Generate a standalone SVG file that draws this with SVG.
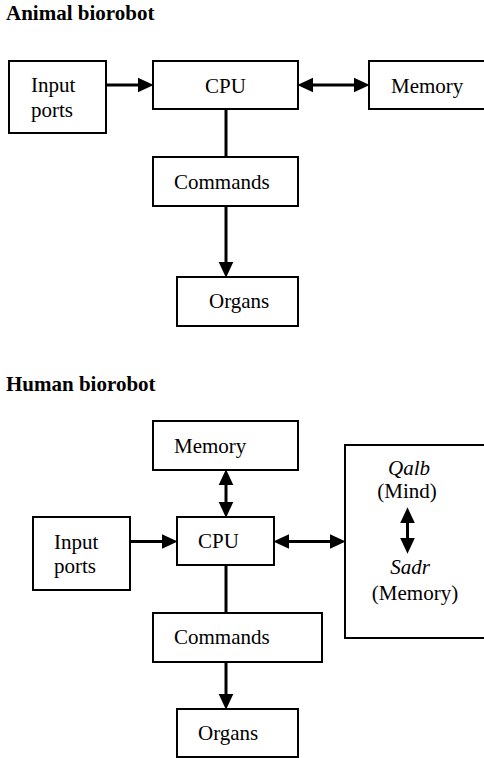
<svg xmlns="http://www.w3.org/2000/svg" width="484" height="758" viewBox="0 0 484 758">
<style>
.box{fill:#fff;stroke:#000;stroke-width:2}
.t{font-family:"Liberation Serif","Times New Roman","DejaVu Serif",serif;font-size:21px;fill:#000}
.i{font-style:italic}
.h{font-weight:bold}
.c{stroke:#000;stroke-width:3;fill:none}
</style>
<defs>
<marker id="ah" markerUnits="userSpaceOnUse" markerWidth="16" markerHeight="16" viewBox="0 0 15 14" refX="5" refY="7" orient="auto-start-reverse">
<path d="M0,0 L15,7 L0,14 z" fill="#000"/>
</marker>
</defs>
<rect width="484" height="758" fill="#fff"/>
<text class="t h" x="6" y="20">Animal biorobot</text>
<text class="t h" x="6" y="391">Human biorobot</text>

<g id="a-input">
<rect class="box" x="9" y="61" width="97" height="72"/>
<text class="t" x="31" y="92">Input</text>
<text class="t" x="31" y="116.5">ports</text>
</g>
<g id="a-cpu">
<rect class="box" x="153" y="61" width="145" height="48"/>
<text class="t" x="205" y="92.5">CPU</text>
</g>
<g id="a-memory">
<rect class="box" x="369" y="61" width="120" height="48"/>
<text class="t" x="391" y="92.5">Memory</text>
</g>
<g id="a-commands">
<rect class="box" x="153" y="157" width="145" height="49"/>
<text class="t" x="174" y="188.5">Commands</text>
</g>
<g id="a-organs">
<rect class="box" x="177" y="277" width="121" height="49"/>
<text class="t" x="209" y="308">Organs</text>
</g>

<g id="h-memory">
<rect class="box" x="153" y="421" width="145" height="49"/>
<text class="t" x="174" y="452.5">Memory</text>
</g>
<g id="h-cpu">
<rect class="box" x="177" y="517" width="97" height="48"/>
<text class="t" x="198" y="548">CPU</text>
</g>
<g id="h-input">
<rect class="box" x="33" y="517" width="97" height="73"/>
<text class="t" x="54" y="549">Input</text>
<text class="t" x="54" y="573">ports</text>
</g>
<g id="h-soul">
<rect class="box" x="345" y="445" width="150" height="193"/>
<text class="t i" x="409" y="475" text-anchor="middle">Qalb</text>
<text class="t" x="407" y="498" text-anchor="middle">(Mind)</text>
<text class="t i" x="410" y="574" text-anchor="middle">Sadr</text>
<text class="t" x="415" y="600" text-anchor="middle">(Memory)</text>
</g>
<g id="h-commands">
<rect class="box" x="153" y="613" width="169" height="49"/>
<text class="t" x="174" y="644">Commands</text>
</g>
<g id="h-organs">
<rect class="box" x="177" y="709" width="121" height="48"/>
<text class="t" x="198" y="740">Organs</text>
</g>

<g id="connectors">
<line class="c" x1="106" y1="85" x2="143" y2="85" marker-end="url(#ah)"/>
<line class="c" x1="308" y1="85" x2="359" y2="85" marker-start="url(#ah)" marker-end="url(#ah)"/>
<line class="c" x1="226" y1="110" x2="226" y2="156"/>
<line class="c" x1="226" y1="207" x2="226" y2="267" marker-end="url(#ah)"/>

<line class="c" x1="226" y1="480" x2="226" y2="507" marker-start="url(#ah)" marker-end="url(#ah)"/>
<line class="c" x1="130" y1="541.5" x2="167" y2="541.5" marker-end="url(#ah)"/>
<line class="c" x1="284" y1="541.5" x2="335" y2="541.5" marker-start="url(#ah)" marker-end="url(#ah)"/>
<line class="c" x1="226" y1="566" x2="226" y2="612"/>
<line class="c" x1="226" y1="663" x2="226" y2="699" marker-end="url(#ah)"/>
<line class="c" x1="407.5" y1="518" x2="407.5" y2="543" marker-start="url(#ah)" marker-end="url(#ah)"/>
</g>
</svg>
